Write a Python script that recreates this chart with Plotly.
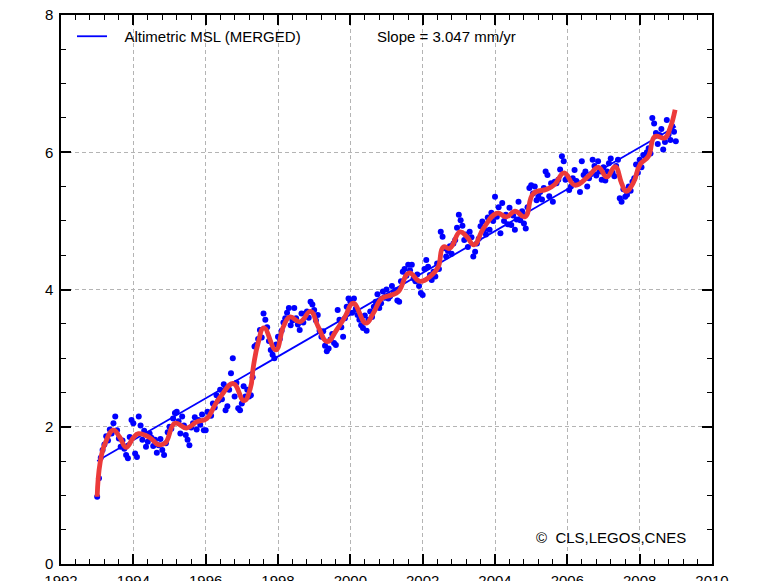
import plotly.graph_objects as go

# ---------------- data ----------------
blue_start = 1993.0
blue_step = 0.05
blue_vals = [
    # 1993
    0.98, 1.25, 1.55, 1.66, 1.74, 1.86, 1.80, 1.96, 1.90, 2.05, 2.15, 1.95, 1.83, 1.71, 1.80, 1.68, 1.59, 1.54, 1.85, 2.10,
    # 1994
    2.05, 1.61, 1.56, 2.15, 2.02, 1.81, 1.94, 1.71, 1.78, 1.90, 1.84, 1.72, 1.81, 1.62, 1.73, 1.82, 1.66, 1.59, 1.76, 1.92,
    # 1995
    2.00, 1.97, 2.12, 2.20, 2.22, 2.08, 1.90, 2.15, 2.02, 1.88, 1.81, 1.73, 1.99, 2.05, 2.14, 1.96, 2.10, 2.03, 2.18, 1.95,
    # 1996
    1.95, 2.22, 2.20, 2.16, 2.34, 2.28, 2.46, 2.38, 2.54, 2.40, 2.62, 2.24, 2.30, 2.54, 2.78, 3.00, 2.44, 2.64, 2.27, 2.24,
    # 1997
    2.34, 2.59, 2.44, 2.54, 2.44, 2.46, 2.72, 3.17, 3.19, 3.28, 3.41, 3.30, 3.65, 3.56, 3.45, 3.25, 3.12, 3.05, 3.00, 3.20,
    # 1998
    3.31, 3.28, 3.40, 3.52, 3.58, 3.66, 3.73, 3.48, 3.55, 3.73, 3.58, 3.49, 3.41, 3.65, 3.52, 3.65, 3.68, 3.59, 3.82, 3.78,
    # 1999
    3.70, 3.55, 3.63, 3.40, 3.31, 3.39, 3.18, 3.10, 3.14, 3.27, 3.35, 3.22, 3.19, 3.70, 3.56, 3.45, 3.31, 3.58, 3.75, 3.87,
    # 2000
    3.82, 3.66, 3.87, 3.72, 3.63, 3.56, 3.48, 3.44, 3.62, 3.40, 3.56, 3.68, 3.60, 3.75, 3.82, 3.93, 3.73, 3.80, 3.97, 3.88,
    # 2001
    4.00, 3.87, 3.90, 4.05, 3.95, 3.99, 3.84, 3.82, 4.12, 4.26, 4.30, 4.20, 4.36, 4.28, 4.36, 4.16, 4.12, 4.22, 4.05, 3.95,
    # 2002
    3.92, 4.30, 4.43, 4.33, 4.21, 4.14, 4.26, 4.19, 4.38, 4.30, 4.84, 4.77, 4.60, 4.48, 4.56, 4.63, 4.52, 4.67, 4.72, 4.90,
    # 2003
    5.09, 5.01, 4.93, 4.72, 4.80, 4.62, 4.84, 4.76, 4.48, 4.55, 4.67, 4.74, 4.92, 4.99, 4.87, 4.80, 5.05, 4.87, 5.12, 5.00,
    # 2004
    5.35, 5.06, 5.20, 4.82, 5.26, 5.00, 5.09, 4.95, 5.19, 4.94, 5.08, 4.87, 5.02, 5.28, 5.01, 5.14, 4.96, 4.89, 5.20, 5.48,
    # 2005
    5.52, 5.40, 5.50, 5.30, 5.35, 5.42, 5.31, 5.48, 5.72, 5.67, 5.36, 5.55, 5.28, 5.57, 5.55, 5.60, 5.75, 5.94, 5.87, 5.60,
    # 2006
    5.64, 5.45, 5.50, 5.62, 5.74, 5.58, 5.55, 5.42, 5.87, 5.67, 5.72, 5.50, 5.62, 5.68, 5.89, 5.80, 5.66, 5.87, 5.72, 5.60,
    # 2007
    5.78, 5.59, 5.72, 5.84, 5.91, 5.70, 5.65, 5.80, 5.89, 5.33, 5.28, 5.46, 5.35, 5.38, 5.50, 5.44, 5.57, 5.62, 5.82, 5.70,
    # 2008
    5.89, 5.78, 5.96, 5.94, 6.00, 6.06, 5.98, 6.50, 6.42, 6.28, 6.12, 6.25, 6.34, 6.04, 6.15, 6.47, 6.26, 6.18, 6.38, 6.30,
    # 2009.0
    6.16,
]
blue_years = [round(blue_start + i * blue_step, 3) for i in range(len(blue_vals))]

red_years = [1993.00, 1993.08, 1993.22, 1993.45, 1993.62, 1993.80, 1994.00, 1994.14, 1994.46, 1994.69,
             1994.88, 1995.15, 1995.47, 1995.75, 1996.03, 1996.26, 1996.44, 1996.76, 1997.06, 1997.23,
             1997.32, 1997.45, 1997.61, 1997.94, 1998.15, 1998.33, 1998.61, 1998.90, 1999.11, 1999.36,
             1999.62, 1999.85, 2000.08, 2000.43, 2000.63, 2000.87, 2001.14, 2001.33, 2001.62, 2001.93,
             2002.25, 2002.43, 2002.57, 2002.75, 2003.03, 2003.22, 2003.42, 2003.68, 2004.05, 2004.32,
             2004.55, 2004.83, 2005.06, 2005.43, 2005.65, 2005.91, 2006.21, 2006.58, 2006.86, 2007.09,
             2007.32, 2007.50, 2007.62, 2007.82, 2008.01, 2008.24, 2008.42, 2008.70, 2008.84, 2008.98]
red_vals = [0.98, 1.47, 1.76, 1.95, 1.85, 1.70, 1.84, 1.90, 1.84, 1.74,
            1.76, 2.05, 1.98, 2.07, 2.12, 2.32, 2.46, 2.63, 2.38, 2.55,
            2.88, 3.22, 3.44, 3.12, 3.46, 3.60, 3.53, 3.68, 3.46, 3.24,
            3.41, 3.60, 3.80, 3.51, 3.65, 3.87, 3.92, 3.97, 4.24, 4.12,
            4.21, 4.33, 4.62, 4.60, 4.84, 4.77, 4.65, 4.89, 5.11, 5.06,
            5.14, 5.06, 5.40, 5.46, 5.53, 5.70, 5.52, 5.65, 5.78, 5.64,
            5.79, 5.55, 5.43, 5.55, 5.82, 5.94, 6.23, 6.21, 6.35, 6.62]

trend_years = [1993.0, 2009.0]
trend_vals = [1.50, 6.375]

x_ticks = [1992, 1994, 1996, 1998, 2000, 2002, 2004, 2006, 2008, 2010]
y_ticks = [0, 2, 4, 6, 8]

series_name = "Altimetric MSL (MERGED)"
slope_text = "Slope = 3.047 mm/yr"
credit_text = "\u00a9  CLS,LEGOS,CNES"

FONT = "Liberation Sans, Arial, Helvetica, sans-serif"

# page body has an 8px margin: figure is drawn at (8, 8)
OFF = 8
PL, PR, PT, PB = 61, 712, 15, 564   # plot area in page pixels
FIG_W, FIG_H = 760 - OFF, 581 - OFF

def px_x(x):
    return (x - PL) / (PR - PL)

def px_y(y):
    return 1 - (y - PT) / (PB - PT)

# ---------------- figure ----------------
fig = go.Figure()

fig.add_trace(go.Scatter(
    x=blue_years, y=blue_vals, mode="markers",
    marker=dict(color="#0000ff", size=6, line=dict(width=0)),
    showlegend=False, hoverinfo="skip"))

fig.add_trace(go.Scatter(
    x=trend_years, y=trend_vals, mode="lines",
    line=dict(color="#0000ff", width=1.8),
    name="\u00a0\u00a0\u00a0" + series_name, showlegend=True))

fig.add_trace(go.Scatter(
    x=red_years, y=red_vals, mode="lines",
    line=dict(color="#ec3a3a", width=4.8, shape="spline", smoothing=1.3),
    showlegend=False, hoverinfo="skip"))

axis_common = dict(
    showline=True, linecolor="black", linewidth=1.5, mirror="ticks",
    ticks="inside", ticklen=10, tickwidth=1.5, tickcolor="black",
    showgrid=True, gridcolor="#b4b4b4", gridwidth=1, griddash="4px,3px",
    zeroline=False, automargin=False, ticklabeloverflow="allow",
    tickfont=dict(family=FONT, size=15, color="black"),
)

fig.update_xaxes(
    range=[1992, 2010], tickmode="array", tickvals=x_ticks,
    ticktext=[str(v) for v in x_ticks], ticklabelstandoff=2,
    minor=dict(dtick=0.4, tick0=1992, ticks="inside", ticklen=5, tickwidth=1.2,
               tickcolor="black", showgrid=False),
    **axis_common)
fig.update_yaxes(
    range=[0, 8], tickmode="array", tickvals=y_ticks,
    ticktext=[str(v) for v in y_ticks], ticklabelstandoff=3,
    minor=dict(dtick=0.5, tick0=0, ticks="inside", ticklen=5, tickwidth=1.2,
               tickcolor="black", showgrid=False),
    **axis_common)

fig.add_annotation(xref="paper", yref="paper", x=px_x(375), y=px_y(37),
                   xanchor="left", yanchor="middle", text=slope_text, showarrow=False,
                   font=dict(family=FONT, size=15, color="black"))
fig.add_annotation(xref="paper", yref="paper", x=px_x(534), y=px_y(537),
                   xanchor="left", yanchor="middle", text=credit_text, showarrow=False,
                   font=dict(family=FONT, size=15, color="black"))

fig.update_layout(
    width=FIG_W, height=FIG_H,
    margin=dict(l=PL - OFF, r=760 - PR, t=PT - OFF, b=581 - PB),
    paper_bgcolor="white", plot_bgcolor="white",
    font=dict(family=FONT, size=15, color="black"),
    showlegend=True,
    legend=dict(x=px_x(72), y=px_y(20), xanchor="left", yanchor="top",
                bgcolor="rgba(0,0,0,0)", borderwidth=0,
                font=dict(family=FONT, size=15, color="black")),
)

fig.write_html("out.html")
